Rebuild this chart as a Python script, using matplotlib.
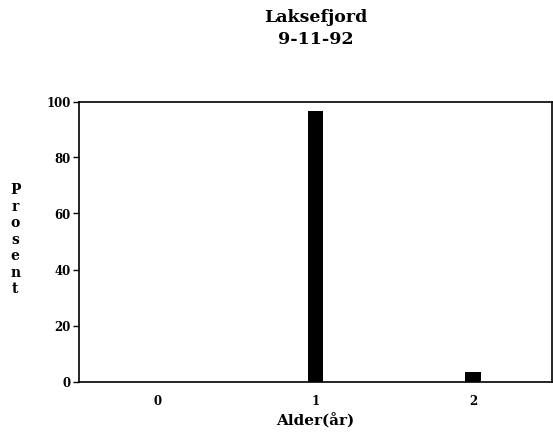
import numpy as np
import matplotlib.pyplot as plt

# age distribution, Laksefjord 9-11-92
ages = [0, 1, 2]
age_labels = ['0', '1', '2']
percent = [0.0, 96.6, 3.4]

y_ticks = [0, 20, 40, 60, 80, 100]

plt.rcParams['font.family'] = 'DejaVu Serif'
plt.rcParams['font.weight'] = 'bold'

fig = plt.figure(figsize=(5.53, 4.39), dpi=100)
ax = fig.add_axes([79 / 553, 56.5 / 439, 473 / 553, 280 / 439])

ax.bar(ages, percent, width=0.1, color='black')

ax.set_xlim(-0.5, 2.5)
ax.set_ylim(0, 100)
ax.set_xticks(ages)
ax.set_xticklabels(age_labels, fontsize=8.5, fontweight='bold')
ax.set_yticks(y_ticks)
ax.set_yticklabels([str(v) for v in y_ticks], fontsize=8.5, fontweight='bold')
ax.tick_params(axis='x', length=0, pad=9)
ax.tick_params(axis='y', length=4, width=1, pad=2)
for s in ax.spines.values():
    s.set_linewidth(1.2)

ax.set_xlabel('Alder(år)', fontsize=11, fontweight='bold', labelpad=4)
# stacked vertical letters like the original
ax.text(-0.135, 0.51, '\n'.join('Prosent'), transform=ax.transAxes,
        ha='center', va='center', fontsize=10, fontweight='bold',
        linespacing=1.22)

fig.text(315.5 / 553, 1 - 17 / 439, 'Laksefjord', ha='center', va='center',
         fontsize=12.5, fontweight='bold')
fig.text(315.5 / 553, 1 - 40 / 439, '9-11-92', ha='center', va='center',
         fontsize=12.5, fontweight='bold')

fig.savefig('out.png', dpi=100)
